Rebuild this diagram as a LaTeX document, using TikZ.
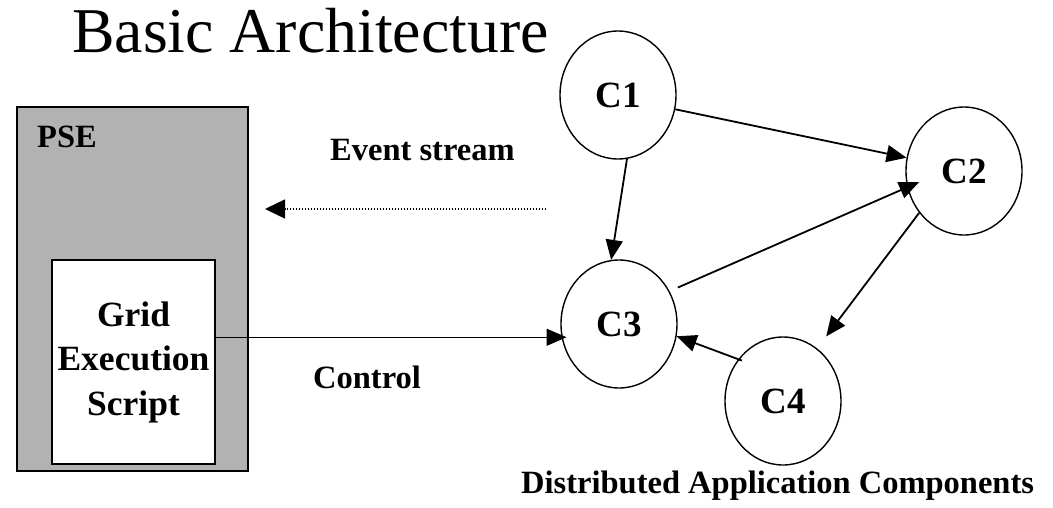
\documentclass[tikz,border=0pt]{standalone}
\usepackage{fontspec}
\setmainfont{Liberation Serif}
\usetikzlibrary{shapes.geometric,arrows.meta,calc}
\begin{document}
\begin{tikzpicture}[x=1pt,y=-1pt,
  comp/.style={ellipse,draw,line width=1.4pt,minimum width=116pt,minimum height=128pt,
    inner sep=0pt,font=\fontsize{37}{42}\selectfont\bfseries},
  link/.style={line width=1.8pt,-{Triangle[length=20pt,width=17pt]}},
  lbl/.style={anchor=base west,inner sep=0pt,font=\fontsize{32.5}{38}\selectfont\bfseries}]
\useasboundingbox (0,0) rectangle (1053,507);

% title
\node[anchor=base west,inner sep=0pt,font=\fontsize{63.8}{72}\selectfont] (title) at (72,52) {Basic Architecture};

% problem solving environment with the execution script inside
\node[draw,line width=1.4pt,fill={rgb,255:red,178;green,178;blue,178},
  minimum width=231pt,minimum height=364pt,inner sep=0pt] (pse) at (132.5,289) {};
\node[lbl] (pselbl) at (37,147) {PSE};
\node[draw,line width=1.4pt,fill=white,minimum width=163pt,minimum height=204pt,
  inner sep=0pt,align=center,font=\fontsize{35.5}{44.5}\selectfont\bfseries]
  (script) at (133.5,362) {Grid\\Execution\\Script};

% application components
\node[comp] (C1) at (618,95) {C1};
\node[comp] (C2) at (964,171) {C2};
\node[comp] (C3) at (619,324) {C3};
\node[comp] (C4) at (783,401) {C4};

% links between components
\draw[link] (C1.346.7) -- (C2.167.4);
\draw[link] (C1.278) -- (C3.97);
\draw[link,shorten <=9pt,shorten >=-13pt] (C3.33) -- (C2.196);
\draw[link,shorten >=15pt] (C2.223.6) -- (C4.57.8);
\draw[link,shorten <=-4pt] (C4.137.2) -- (C3.348.3);

% control from the script to C3
\draw[line width=1.3pt,-{Triangle[length=20pt,width=17pt]},shorten >=-5pt]
  (script.east |- C3.193) -- (C3.193);
\node[lbl] (ctl) at (313,388) {Control};

% event stream back to the PSE
\coordinate (evA) at (546,209);
\coordinate (evB) at (265,209);
\draw[line width=1.4pt,dash pattern=on 1.4pt off 1.6pt,-{Triangle[length=20pt,width=19pt]}] (evA) -- (evB);
\node[lbl] (evlbl) at (330,160) {Event stream};

% caption of the component group
\node[lbl] (dac) at (521,493) {Distributed Application Components};
\end{tikzpicture}
\end{document}
